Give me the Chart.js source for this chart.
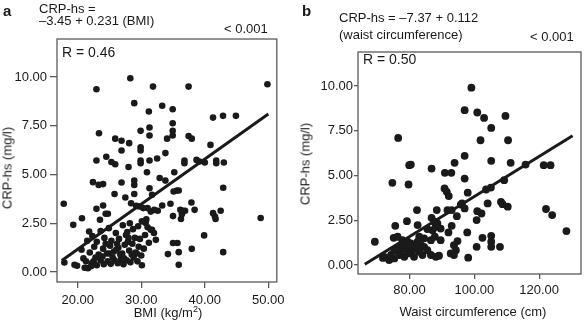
<!DOCTYPE html>
<html><head><meta charset="utf-8">
<script src="https://cdn.jsdelivr.net/npm/chart.js@4"></script>
<style>
html,body{margin:0;padding:0;background:#fff;}
#wrap{position:relative;width:585px;height:329px;overflow:hidden;font-family:"Liberation Sans",Arial,sans-serif;color:#1a1a1a;}
canvas{position:absolute;top:0;}
.t{position:absolute;font-size:13px;line-height:13px;white-space:nowrap;}
.lbl{position:absolute;font-weight:bold;font-size:15px;line-height:15px;}
.rot{position:absolute;font-size:13px;line-height:13px;white-space:nowrap;transform:translate(-50%,-50%) rotate(-90deg);}
.ctr{position:absolute;font-size:13px;line-height:13px;white-space:nowrap;transform:translateX(-50%);}
sup{font-size:9px;line-height:0;vertical-align:5px;}
</style></head>
<body>
<div id="wrap">
<canvas id="ca" width="290" height="329" style="left:0;width:290px;height:329px"></canvas>
<canvas id="cb" width="295" height="329" style="left:290px;width:295px;height:329px"></canvas>
<div class="lbl" style="left:3px;top:3px">a</div>
<div class="t" style="left:39px;top:2px">CRP-hs =</div>
<div class="t" style="left:39px;top:14px">–3.45 + 0.231 (BMI)</div>
<div class="t" style="left:224px;top:22px">&lt; 0.001</div>
<div class="t" style="left:62px;top:45px;font-size:14px;line-height:14px">R = 0.46</div>
<div class="rot" style="left:7px;top:168px">CRP-hs (mg/l)</div>
<div class="ctr" style="left:168px;top:306px">BMI (kg/m<sup>2</sup>)</div>

<div class="lbl" style="left:302px;top:3px">b</div>
<div class="t" style="left:339px;top:11px">CRP-hs = –7.37 + 0.112</div>
<div class="t" style="left:339px;top:28px">(waist circumference)</div>
<div class="t" style="left:530px;top:30px">&lt; 0.001</div>
<div class="t" style="left:363px;top:52px;font-size:14px;line-height:14px">R = 0.50</div>
<div class="rot" style="left:305px;top:164px">CRP-hs (mg/l)</div>
<div class="ctr" style="left:473px;top:305px">Waist circumference (cm)</div>
</div>
<script>
// ---- data ----
const bmiA = [22.95,28.28,31.85,37.45,49.86,28.9,33.3,31.2,34.95,41.3,42.87,44.9,34.95,31.3,34.95,29.9,23.35,31.3,34.95,37.45,37.95,34.07,25.9,26.9,28.1,29.9,29.9,26.9,33.8,40.9,24.5,22.95,25.3,25.9,29.9,29.9,31.3,32.5,36.8,36.8,38.7,39.15,40.0,41.8,41.8,43.0,28.0,30.9,35.2,22.4,23.3,24.0,26.9,28.9,28.9,32.9,33.8,31.3,42.9,25.8,27.5,28.9,35.1,35.6,35.9,31.7,17.8,24.0,28.4,29.2,33.3,34.6,37.9,22.95,
 36.15,36.55,36.9,36.4,35.0,36.25,38.4,41.3,41.6,41.7,42.5,48.8,39.9,35.0,35.7,34.2,35.9,37.95,42.9,35.9,
 29.7,30.3,31.0,31.5,32.05,32.6,30.7,31.5,31.7,32.0,32.3,
 20.67,19.3,21.8,24.4,24.75,23.5,
 21.5,22.3,23.0,23.6,24.2,24.9,25.3,26.0,26.5,27.1,27.6,28.2,28.7,29.0,29.5,30.1,30.6,31.0,27.9,26.2,
 20.6,21.9,22.6,23.3,24.0,24.6,25.1,25.7,26.4,27.0,27.4,28.1,28.6,29.1,29.6,30.0,30.4,31.2,
 17.9,19.5,19.9,20.9,21.1,21.6,22.1,22.5,23.0,23.6,24.1,24.7,25.2,25.8,26.3,26.8,27.2,27.7,28.3,28.8,29.4,30.1,
 22.8,23.9,25.5,26.7,27.3,28.5,29.3,28.0,26.1,24.4,21.3,22.2,27.8,29.8,30.8,25.0];
const crpA = [9.37,9.94,9.51,9.51,9.63,8.66,8.53,8.23,8.35,7.92,8.01,8.01,7.63,7.41,7.24,7.24,7.12,7.0,7.0,6.98,6.84,6.84,6.84,6.73,6.61,6.40,6.23,6.23,6.10,6.52,5.91,5.72,5.64,5.53,5.72,5.58,5.72,5.82,5.72,5.58,5.75,5.67,5.62,5.72,5.58,5.62,5.39,5.12,5.12,4.61,4.47,4.51,4.59,4.69,4.47,4.82,4.69,4.30,4.32,4.0,3.82,4.0,4.13,4.18,4.18,3.96,3.50,3.41,3.53,3.40,3.41,3.50,3.57,3.24,
 3.19,3.14,3.14,2.97,2.87,2.72,3.19,3.02,2.85,2.72,3.14,2.77,1.88,1.49,1.49,0.92,1.02,1.19,1.02,0.37,
 3.36,3.28,3.28,3.10,3.19,3.14,2.51,2.17,2.17,2.0,1.65,
 2.76,2.42,2.08,2.99,2.99,2.68,
 1.6,1.85,1.55,2.1,1.75,2.25,1.6,2.0,1.7,2.4,1.9,2.5,2.2,1.75,2.35,2.6,1.9,2.3,1.55,1.45,
 1.14,1.0,1.3,0.9,1.2,0.95,1.35,1.05,1.25,0.95,1.4,1.1,1.45,1.0,1.3,0.85,1.2,1.5,
 0.49,0.37,0.32,0.70,0.22,0.2,0.3,0.55,0.35,0.6,0.4,0.55,0.42,0.6,0.45,0.65,0.4,0.6,0.5,0.75,0.55,0.35,
 0.75,0.8,0.75,0.9,0.7,0.9,0.95,1.75,1.15,1.45,0.55,0.45,2.05,1.7,2.7,0.95];

const waistB = [99.08,97.0,100.9,103.0,109.6,105.2,76.5,101.9,110.4,97.0,105.2,79.9,80.4,86.8,93.9,111.2,115.8,121.4,123.5,90.9,92.9,97.0,74.7,79.7,90.8,91.5,92.1,97.95,103.6,105.1,109.2,96.2,104.1,108.2,108.7,110.3,122.1,124.0,128.4,82.3,88.4,91.7,93.0,95.8,97.0,94.6,100.9,102.2,100.7,86.8,87.6,88.6,79.2,75.6,82.5,85.5,87.1,88.1,93.0,89.6,92.0,97.8,69.3,75.1,76.3,77.8,79.4,83.0,84.5,86.6,87.8,89.6,102.5,105.2,105.2,105.2,107.9,100.7,94.8,93.7,94.3,92.7,93.7,98.1,72.2,73.7,75.3,76.8,78.4,79.9,80.9,81.9,83.0,84.0,85.5,86.6,88.1,89.1,76.8,78.4,80.4,83.5,75.3,74.3,77.3,79.4,81.4,84.5,82.5,71.8];
const crpB = [9.91,8.65,8.52,8.22,8.33,7.66,7.10,6.97,6.97,6.10,5.82,5.58,5.61,5.39,5.71,5.71,5.61,5.58,5.58,5.15,5.15,4.83,4.59,4.50,4.28,4.09,3.85,4.04,4.22,4.33,4.74,3.44,3.44,3.53,3.40,3.26,3.13,2.79,1.90,3.07,3.07,3.07,3.07,3.38,3.16,2.73,3.01,2.88,2.51,2.64,2.42,2.32,2.45,2.19,2.23,2.01,1.95,2.14,2.19,2.04,1.82,1.82,1.30,1.52,1.58,1.39,1.30,1.58,1.49,1.39,1.58,1.39,1.52,1.63,1.30,1.02,1.02,1.02,1.34,1.11,0.83,0.65,0.56,0.41,0.46,0.28,0.37,0.56,0.46,0.65,0.83,1.02,0.74,0.56,0.83,0.56,0.46,0.52,1.02,1.11,1.21,1.11,0.83,0.56,0.74,0.83,0.46,1.02,1.30,0.40];

const yTicks = [0, 2.5, 5, 7.5, 10];
const xTicksA = [20, 30, 40, 50];
const xTicksB = [80, 100, 120];
const fitA = [-3.45, 0.231];   // intercept, slope
const fitB = [-7.37, 0.112];
const fitRangeA = [17.5, 50];
const fitRangeB = [66.2, 130.3];

// ---- drawing ----
const ink = '#1a1a1a', frame = '#5a5a5a';
const boxPlugin = {
  id: 'box',
  afterDraw(chart) {
    const {ctx, chartArea: a} = chart;
    ctx.save(); ctx.strokeStyle = frame; ctx.lineWidth = 1.3;
    ctx.strokeRect(a.left, a.top, a.right - a.left, a.bottom - a.top);
    ctx.restore();
  }
};
function makeChart(id, xs, ys, fit, range, xTicks, xr, yr, opt) {
  const pts = xs.map((x, i) => ({x, y: ys[i]}));
  const line = range.map(x => ({x, y: fit[0] + fit[1] * x}));
  const font = {family: '"Liberation Sans", Arial, sans-serif', size: 13};
  return new Chart(document.getElementById(id), {
    type: 'scatter',
    data: {datasets: [
      {data: line, type: 'line', showLine: true, borderColor: ink, borderWidth: 3, pointRadius: 0, fill: false},
      {data: pts, pointRadius: opt.r, pointBackgroundColor: ink, pointBorderWidth: 0}
    ]},
    options: {
      responsive: false, animation: false, devicePixelRatio: 1,
      layout: {padding: opt.pad},
      plugins: {legend: {display: false}, tooltip: {enabled: false}},
      scales: {
        x: {type: 'linear', min: xr[0], max: xr[1],
            afterBuildTicks: s => { s.ticks = xTicks.map(v => ({value: v})); },
            afterFit: s => { s.height = opt.xh; },
            border: {display: false},
            grid: {drawOnChartArea: false, drawTicks: true, tickLength: opt.xtl, color: frame, lineWidth: 1.3},
            ticks: {font, color: ink, padding: opt.xpad, maxRotation: 0, autoSkip: false, callback: v => v.toFixed(2)}},
        y: {type: 'linear', min: yr[0], max: yr[1],
            afterBuildTicks: s => { s.ticks = yTicks.map(v => ({value: v})); },
            afterFit: s => { s.width = opt.yw; },
            border: {display: false},
            grid: {drawOnChartArea: false, drawTicks: true, tickLength: opt.ytl, color: frame, lineWidth: 1.3},
            ticks: {font, color: ink, padding: opt.ypad, autoSkip: false, callback: v => v.toFixed(2)}}
      }
    },
    plugins: [boxPlugin]
  });
}
makeChart('ca', bmiA, crpA, fitA, fitRangeA, xTicksA, [16.74, 51.34], [-0.51, 11.95],
  {r: 3.3, pad: {left: 0, top: 39, right: 11, bottom: 0}, xh: 47, yw: 57, xtl: 6, xpad: 5, ytl: 7, ypad: 3});
makeChart('cb', waistB, crpB, fitB, fitRangeB, xTicksB, [64.1, 132.9], [-0.5, 11.9],
  {r: 3.9, pad: {left: 0, top: 52, right: 3, bottom: 0}, xh: 55, yw: 68, xtl: 5, xpad: 4, ytl: 4, ypad: 1});
</script>
</body></html>
